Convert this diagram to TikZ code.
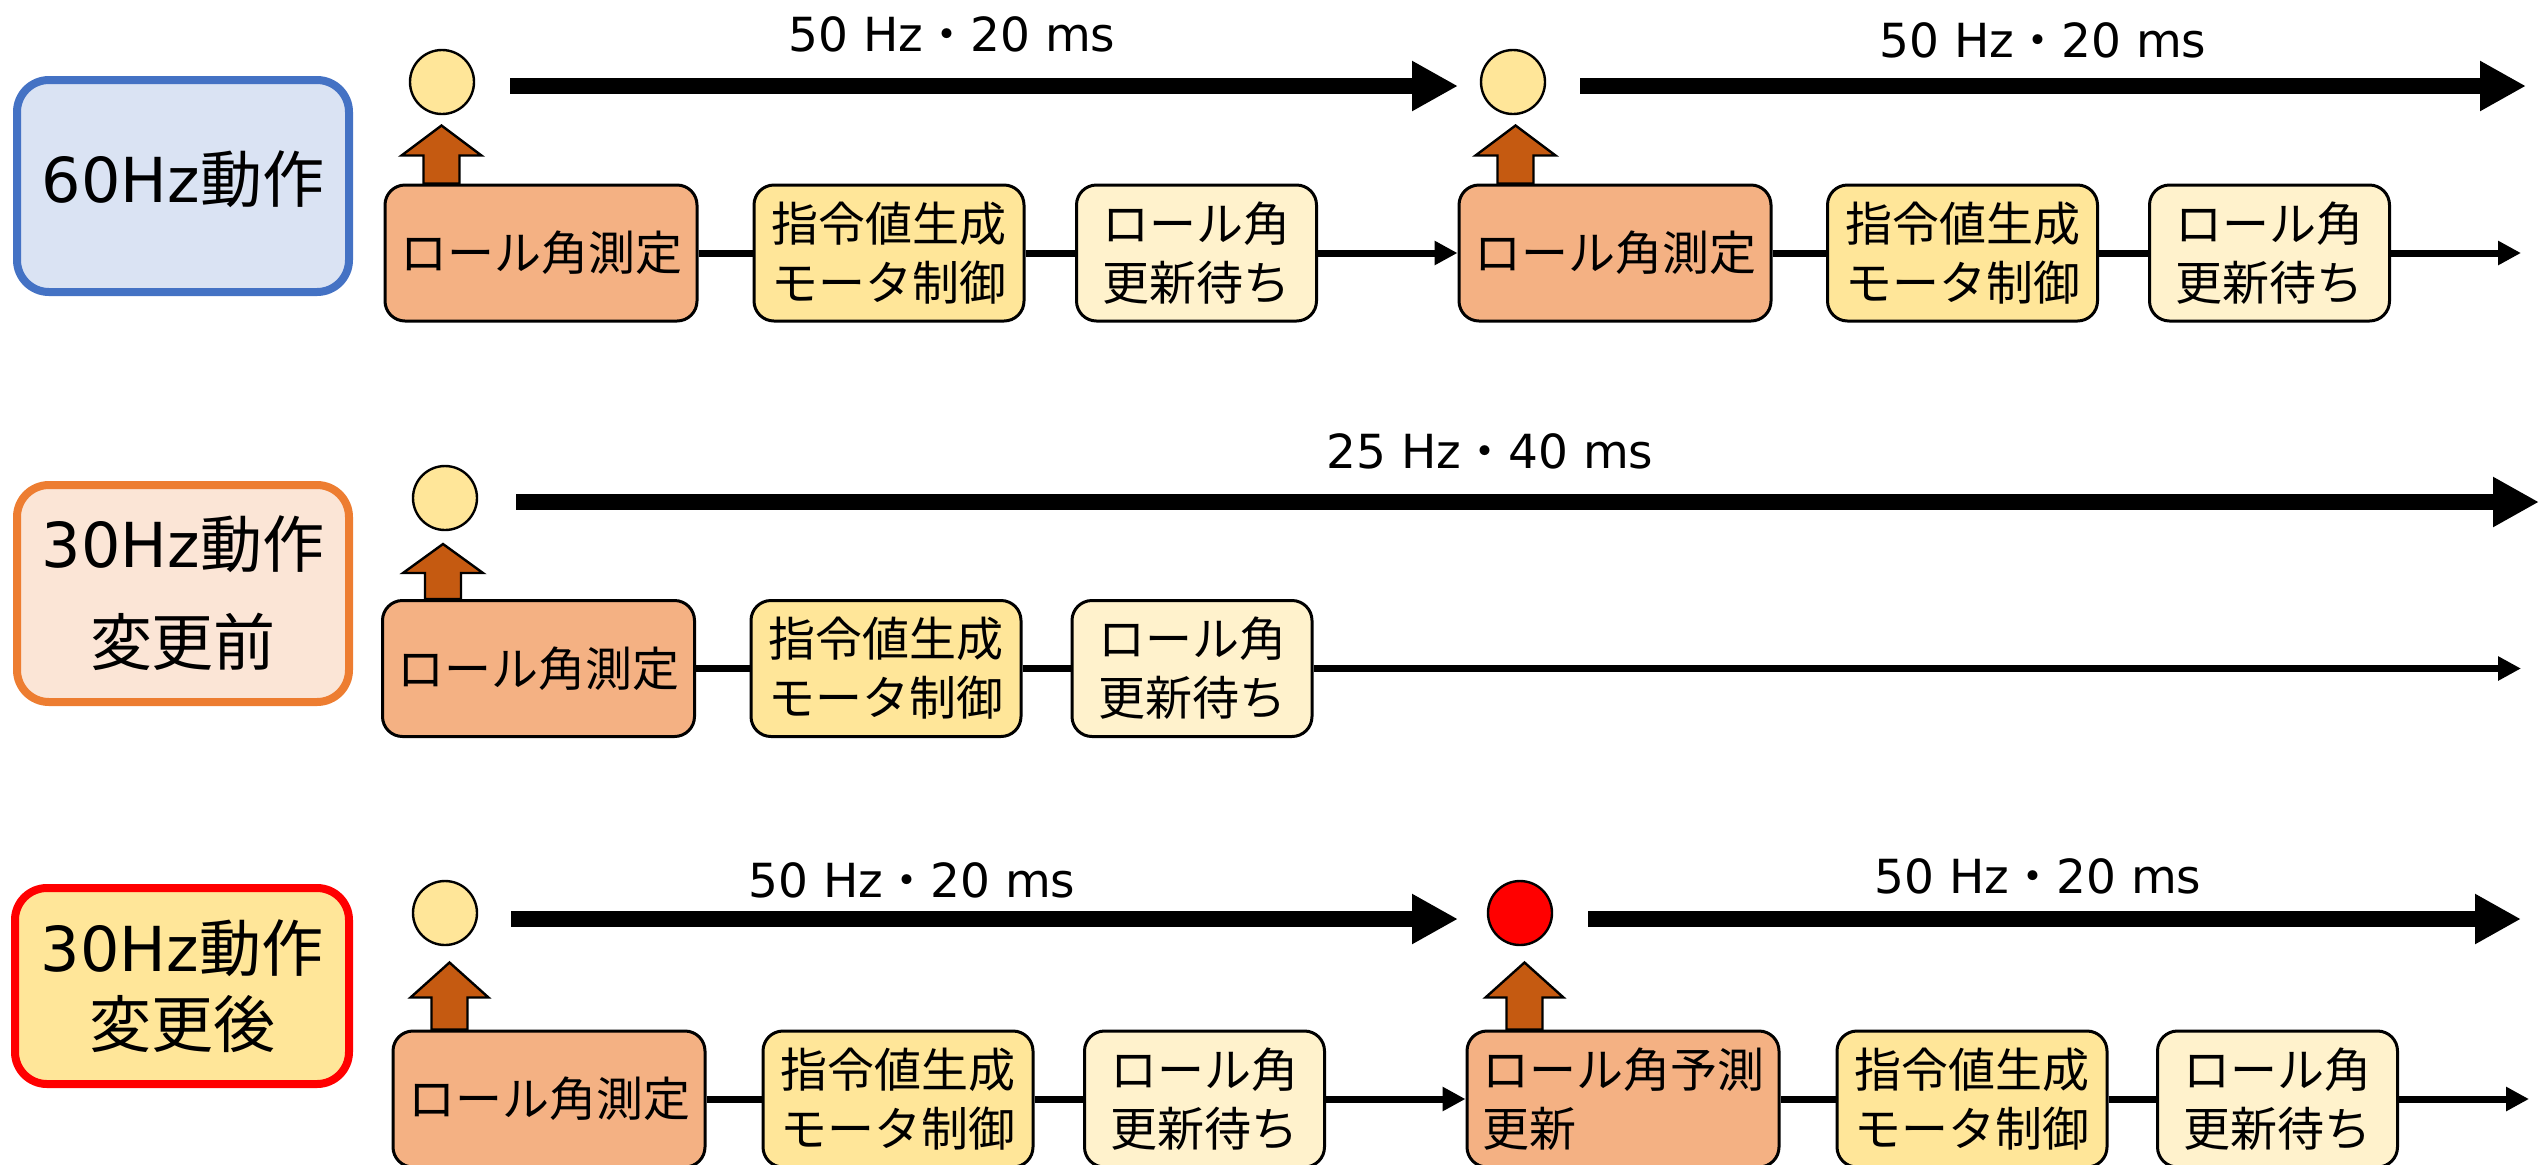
\documentclass[tikz,border=0pt]{standalone}
\usepackage{fontspec}
\setmainfont{DejaVu Sans}
\newfontfamily\cjk{Noto Sans CJK JP}
\usetikzlibrary{arrows.meta,calc}
\definecolor{cA}{HTML}{F4B183}
\definecolor{cB}{HTML}{FFE699}
\definecolor{cC}{HTML}{FFF2CC}
\definecolor{cU}{HTML}{C55A11}
\definecolor{blueB}{HTML}{4472C4}
\definecolor{blueF}{HTML}{DAE3F3}
\definecolor{orgB}{HTML}{ED7D31}
\definecolor{orgF}{HTML}{FBE5D6}
\begin{document}
\begin{tikzpicture}[x=0.5pt,y=-0.5pt,
  box/.style={draw=black, line width=1.5pt, rounded corners=10pt, minimum height=68pt, inner sep=2pt, align=center, font={\cjk\fontsize{23.5pt}{29.5pt}\selectfont}},
  boxA/.style={box, fill=cA, minimum width=156pt},
  boxB/.style={box, fill=cB, minimum width=135pt},
  boxC/.style={box, fill=cC, minimum width=120pt},
  lab/.style={line width=4pt, rounded corners=16pt, align=center, inner sep=0pt},
  dot/.style={circle, draw=black, line width=1.2pt, fill=cB, minimum size=32pt, inner sep=0pt},
  big/.style={line width=8pt, -{Triangle[length=23pt,width=23.5pt]}},
  small/.style={line width=3.5pt, -{Triangle[length=11.5pt,width=11.5pt]}},
  conn/.style={line width=3.5pt},
  up/.style={draw=black, line width=1.2pt, fill=cU, line join=miter},
  hz/.style={anchor=base, font={\fontsize{23.5pt}{28pt}\selectfont}, inner sep=0pt}
]
\useasboundingbox (0,0) rectangle (2539,1164);

% ---------- row 1 ----------
\node[lab, draw=blueB, fill=blueF, minimum width=166pt, minimum height=106pt,
      font={\fontsize{31pt}{38pt}\selectfont}] (L1) at (183,186) {\raisebox{9pt}{60Hz{\cjk 動作}}};
\node[boxA] (A1) at (541,253) {ロール角測定};
\node[boxB] (B1) at (889,253) {指令値生成\\モータ制御};
\node[boxC] (C1) at (1196.5,253) {ロール角\\更新待ち};
\node[boxA] (D1) at (1615,253) {ロール角測定};
\node[boxB] (E1) at (1962.5,253) {指令値生成\\モータ制御};
\node[boxC] (F1) at (2269.5,253) {ロール角\\更新待ち};
\node[dot] (c11) at (442,82) {};
\node[dot] (c12) at (1513,82) {};
\coordinate (b11s) at (510,86);
\coordinate (b11e) at (1458,86);
\coordinate (b12s) at (1580,86);
\coordinate (b12e) at (2526,86);
\coordinate (e1) at (2521,253);
\draw[big] (b11s) -- (b11e);
\draw[big] (b12s) -- (b12e);
\node[hz] (t11) at (952,51) {50 Hz{\cjk ・}20 ms};
\node[hz] (t12) at (2043,57) {50 Hz{\cjk ・}20 ms};
\draw[conn] (A1) -- (B1);
\draw[conn] (B1) -- (C1);
\draw[small] (C1) -- (D1);
\draw[conn] (D1) -- (E1);
\draw[conn] (E1) -- (F1);
\draw[small] (F1) -- (e1);
\draw[up] ($(A1.north west)+(40,0)$) -- ++(0,-28) -- ++(-22,0) -- ++(40,-30) -- ++(40,30) -- ++(-22,0) -- ++(0,28) -- cycle;
\draw[up] ($(D1.north west)+(40,0)$) -- ++(0,-28) -- ++(-22,0) -- ++(40,-30) -- ++(40,30) -- ++(-22,0) -- ++(0,28) -- cycle;

% ---------- row 2 ----------
\node[lab, draw=orgB, fill=orgF, minimum width=166pt, minimum height=108.5pt,
      font={\fontsize{31pt}{49pt}\selectfont}] (L2) at (183,593.5) {30Hz{\cjk 動作}\\{\cjk 変更前}};
\node[boxA] (A2) at (538.5,668.5) {ロール角測定};
\node[boxB] (B2) at (886,668.5) {指令値生成\\モータ制御};
\node[boxC] (C2) at (1192,668.5) {ロール角\\更新待ち};
\node[dot] (c21) at (445,498) {};
\coordinate (b21s) at (516,502);
\coordinate (b21e) at (2539,502);
\coordinate (e2) at (2521,668.5);
\draw[big] (b21s) -- (b21e);
\node[hz] (t21) at (1490,468) {25 Hz{\cjk ・}40 ms};
\draw[conn] (A2) -- (B2);
\draw[conn] (B2) -- (C2);
\draw[small] (C2) -- (e2);
\draw[up] ($(A2.north west)+(44,0)$) -- ++(0,-26) -- ++(-22,0) -- ++(40,-29) -- ++(40,29) -- ++(-22,0) -- ++(0,26) -- cycle;

% ---------- row 3 ----------
\node[lab, draw=red, fill=cB, minimum width=167pt, minimum height=98pt,
      font={\fontsize{31pt}{38pt}\selectfont}] (L3) at (182,986) {30Hz{\cjk 動作}\\{\cjk 変更後}};
\node[boxA] (A3) at (549,1099) {ロール角測定};
\node[boxB] (B3) at (898,1099) {指令値生成\\モータ制御};
\node[boxC] (C3) at (1204.5,1099) {ロール角\\更新待ち};
\node[boxA, align=left] (D3) at (1623,1099) {ロール角予測\\更新};
\node[boxB] (E3) at (1972,1099) {指令値生成\\モータ制御};
\node[boxC] (F3) at (2277.5,1099) {ロール角\\更新待ち};
\node[dot] (c31) at (445,913) {};
\node[dot, fill=red] (c32) at (1520,913) {};
\coordinate (b31s) at (511,919);
\coordinate (b31e) at (1458,919);
\coordinate (b32s) at (1588,919);
\coordinate (b32e) at (2521,919);
\coordinate (e3) at (2529,1099);
\draw[big] (b31s) -- (b31e);
\draw[big] (b32s) -- (b32e);
\node[hz] (t31) at (912,897) {50 Hz{\cjk ・}20 ms};
\node[hz] (t32) at (2038,893) {50 Hz{\cjk ・}20 ms};
\draw[conn] (A3) -- (B3);
\draw[conn] (B3) -- (C3);
\draw[small] (C3) -- (D3);
\draw[conn] (D3) -- (E3);
\draw[conn] (E3) -- (F3);
\draw[small] (F3) -- (e3);
\draw[up] ($(A3.north west)+(40,0)$) -- ++(0,-32) -- ++(-21,0) -- ++(39,-35) -- ++(39,35) -- ++(-21,0) -- ++(0,32) -- cycle;
\draw[up] ($(D3.north west)+(41,0)$) -- ++(0,-32) -- ++(-21,0) -- ++(39,-35) -- ++(39,35) -- ++(-21,0) -- ++(0,32) -- cycle;
\end{tikzpicture}
\end{document}
